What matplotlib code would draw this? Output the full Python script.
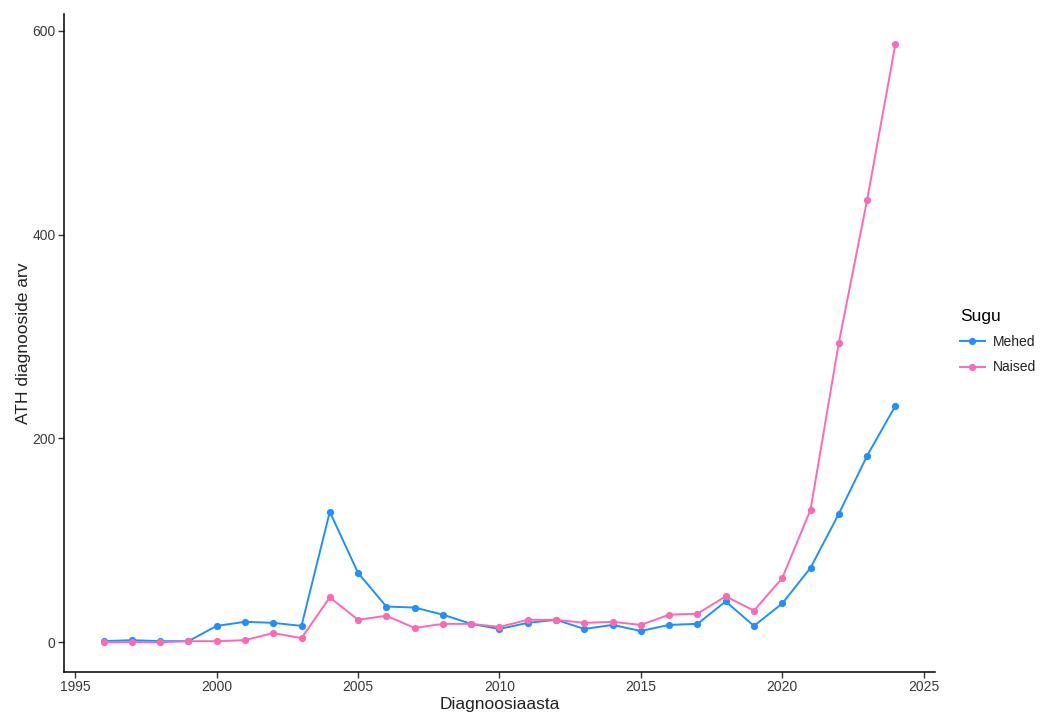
import matplotlib
matplotlib.use("Agg")
import matplotlib.pyplot as plt

plt.rcParams["font.family"] = ["Liberation Sans", "DejaVu Sans"]

years = list(range(1996, 2025))
mehed = [1, 2, 1, 1, 16, 20, 19, 16, 128, 68, 35, 34, 27, 18, 13, 19, 22, 13, 17, 11,
         17, 18, 40, 16, 38, 73, 126, 183, 232]
naised = [0, 0, 0, 1, 1, 2, 9, 4, 44, 22, 26, 14, 18, 18, 15, 22, 22, 19, 20, 17,
          27, 28, 45, 31, 63, 130, 294, 434, 587]

series = [("Mehed", mehed, "#1E90FF"), ("Naised", naised, "#FF69B4")]

fig = plt.figure(figsize=(10.4, 7.15), dpi=100)
ax = fig.add_axes([0.0615, 0.060, 0.8375, 0.92])

for name, vals, col in series:
    ax.plot(years, vals, color=col, lw=1.4, marker="o", markersize=5.2,
            markeredgewidth=0, label=name)

# ggplot-style expanded limits
xr = years[-1] - years[0]
ax.set_xlim(years[0] - 0.05 * xr, years[-1] + 0.05 * xr)
ymax = max(max(mehed), max(naised))
ax.set_ylim(-0.05 * ymax, ymax * 1.05)

ax.set_xticks([1995, 2000, 2005, 2010, 2015, 2020, 2025])
ax.set_yticks([0, 200, 400, 600])

for side in ["top", "right"]:
    ax.spines[side].set_visible(False)
for side in ["left", "bottom"]:
    ax.spines[side].set_linewidth(1.1)
    ax.spines[side].set_color("black")
ax.tick_params(direction="out", length=4, width=1, color="#333333",
               labelsize=10, labelcolor="#3A3A3A", pad=2)

ax.set_xlabel("Diagnoosiaasta", fontsize=12.5, color="#222222", labelpad=2)
ax.set_ylabel("ATH diagnooside arv", fontsize=12.5, color="#222222", labelpad=1)

leg = fig.legend(loc="upper left", bbox_to_anchor=(0.911, 0.585), frameon=False,
                 title="Sugu", title_fontsize=12.5, fontsize=10,
                 handlelength=1.8, handletextpad=0.6, labelspacing=0.8,
                 alignment="left")
for t in leg.get_texts():
    t.set_color("#222222")

fig.savefig("out.png", dpi=100)
